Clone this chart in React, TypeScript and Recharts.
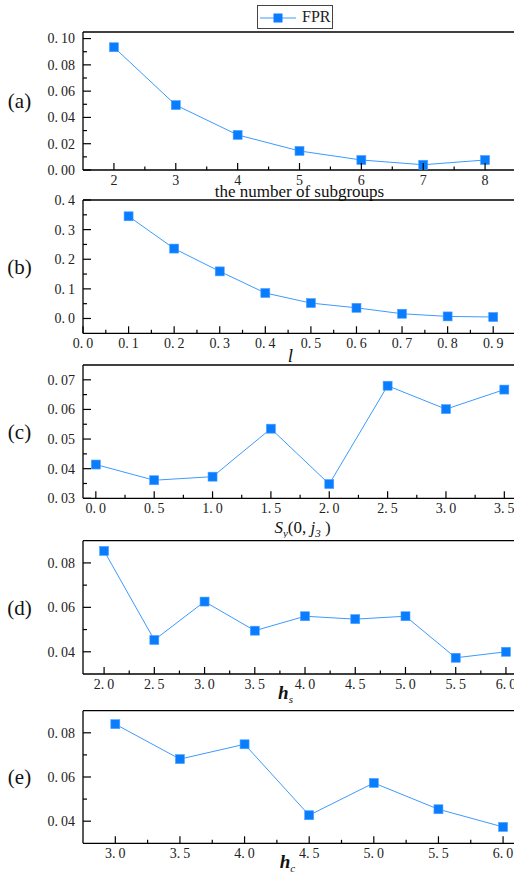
import React from 'react';
import { LineChart, Line, XAxis, YAxis, Legend, ReferenceLine } from 'recharts';

// FPR against each parameter
const subgroups = [2, 3, 4, 5, 6, 7, 8];
const fprSubgroups = [0.0934, 0.0494, 0.0267, 0.0145, 0.0076, 0.004, 0.0076];

const lValues = [0.1, 0.2, 0.3, 0.4, 0.5, 0.6, 0.7, 0.8, 0.9];
const fprL = [0.345, 0.236, 0.159, 0.086, 0.052, 0.036, 0.016, 0.007, 0.005];

const syValues = [0, 0.5, 1.0, 1.5, 2.0, 2.5, 3.0, 3.5];
const fprSy = [0.0414, 0.0361, 0.0373, 0.0535, 0.0348, 0.068, 0.0601, 0.0667];

const hsValues = [2.0, 2.5, 3.0, 3.5, 4.0, 4.5, 5.0, 5.5, 6.0];
const fprHs = [0.0854, 0.0453, 0.0626, 0.0495, 0.056, 0.0547, 0.056, 0.0373, 0.04];

const hcValues = [3.0, 3.5, 4.0, 4.5, 5.0, 5.5, 6.0];
const fprHc = [0.0839, 0.0681, 0.0748, 0.0427, 0.0573, 0.0454, 0.0374];

// tick labels (major) and minor tick positions
const aXMajor = [2, 3, 4, 5, 6, 7, 8];
const aXMinor = [2.5, 3.5, 4.5, 5.5, 6.5, 7.5];
const aYMajor = [0, 0.02, 0.04, 0.06, 0.08, 0.1];
const aYMinor = [0.01, 0.03, 0.05, 0.07, 0.09];

const bXMajor = [0, 0.1, 0.2, 0.3, 0.4, 0.5, 0.6, 0.7, 0.8, 0.9];
const bXMinor = [0.05, 0.15, 0.25, 0.35, 0.45, 0.55, 0.65, 0.75, 0.85];
const bYMajor = [0, 0.1, 0.2, 0.3, 0.4];
const bYMinor = [0.05, 0.15, 0.25, 0.35];

const cXMajor = [0, 0.5, 1.0, 1.5, 2.0, 2.5, 3.0, 3.5];
const cXMinor = [0.25, 0.75, 1.25, 1.75, 2.25, 2.75, 3.25];
const cYMajor = [0.03, 0.04, 0.05, 0.06, 0.07];
const cYMinor = [0.035, 0.045, 0.055, 0.065];

const dXMajor = [2.0, 2.5, 3.0, 3.5, 4.0, 4.5, 5.0, 5.5, 6.0];
const dXMinor = [2.25, 2.75, 3.25, 3.75, 4.25, 4.75, 5.25, 5.75];
const dYMajor = [0.04, 0.06, 0.08];
const dYMinor = [0.05, 0.07];

const eXMajor = [3.0, 3.5, 4.0, 4.5, 5.0, 5.5, 6.0];
const eXMinor = [3.25, 3.75, 4.25, 4.75, 5.25, 5.75];
const eYMajor = [0.04, 0.06, 0.08];
const eYMinor = [0.05, 0.07];

const BLUE_LINE = '#3c9aff';
const BLUE_DOT = '#0a7dff';
const SERIF = '"Liberation Serif", "DejaVu Serif", serif';

const toRows = (xs: number[], ys: number[]) => xs.map((x, i) => ({ x, y: ys[i] }));
const isMajor = (majors: number[], v: number) => majors.some((m) => Math.abs(m - v) < 1e-9);

const NumText = ({ x, y, anchor, value, dec }: any) => {
  const s = value.toFixed(dec);
  const [a, b] = s.split('.');
  return (
    <text x={x} y={y} dy="0.35em" textAnchor={anchor} style={{ fontFamily: SERIF }} fontSize={14} fill="#222">
      {b === undefined ? a : (
        <>
          <tspan>{a}.</tspan>
          <tspan dx={3}>{b}</tspan>
        </>
      )}
    </text>
  );
};

const makeXTick = (majors: number[], dec: number) => (props: any) => {
  const { x, y, payload } = props;
  const major = isMajor(majors, payload.value);
  return (
    <g>
      <line x1={x} y1={y} x2={x} y2={y - (major ? 7 : 3.5)} stroke="#000" strokeWidth={1.2} />
      {major && <NumText x={x} y={y + 10} anchor="middle" value={payload.value} dec={dec} />}
    </g>
  );
};

const makeYTick = (majors: number[], dec: number) => (props: any) => {
  const { x, y, payload } = props;
  const major = isMajor(majors, payload.value);
  return (
    <g>
      <line x1={x} y1={y} x2={x + (major ? 8 : 4)} y2={y} stroke="#000" strokeWidth={1.2} />
      {major && <NumText x={x - 8} y={y} anchor="end" value={payload.value} dec={dec} />}
    </g>
  );
};

const SquareDot = (props: any) => {
  const { cx, cy } = props;
  if (cx == null || cy == null) return null;
  return <rect x={cx - 4.5} y={cy - 4.5} width={9} height={9} fill={BLUE_DOT} stroke="#4aa3ff" strokeWidth={0.6} />;
};

const PanelLetter = ({ viewBox, text }: any) => (
  <text x={19.5} y={viewBox.y + viewBox.height / 2} dy="0.35em" textAnchor="middle" style={{ fontFamily: SERIF }} fontSize={21} fill="#111">
    {text}
  </text>
);

const XTitle = ({ viewBox, children, dx = 0, dy = 20 }: any) => (
  <text x={viewBox.x + viewBox.width / 2 + dx} y={viewBox.y + dy} dy="0.35em" textAnchor="middle" style={{ fontFamily: SERIF }} fontSize={17} fill="#111">
    {children}
  </text>
);

const LegendBox = () => (
  <div style={{ width: 76, height: 24, border: '1px solid #444', boxSizing: 'border-box', background: '#fff', display: 'flex', alignItems: 'center' }}>
    <svg width={42} height={22}>
      <line x1={2} y1={12} x2={38} y2={12} stroke={BLUE_LINE} strokeWidth={1.2} />
      <rect x={15.5} y={7.5} width={9} height={9} fill={BLUE_DOT} />
    </svg>
    <span style={{ fontFamily: SERIF, fontSize: 16, color: '#222', marginLeft: 2 }}>FPR</span>
  </div>
);

const Panel = (p: any) => {
  const height = p.plotBottom - p.top + 40;
  return (
    <div style={{ position: 'absolute', left: 0, top: p.top }}>
      <LineChart width={516} height={height} data={p.data} margin={{ top: p.plotTop - p.top, right: 0, bottom: 0, left: 0 }}>
        <XAxis
          type="number"
          dataKey="x"
          domain={p.xDomain}
          ticks={[...p.xMajor, ...p.xMinor]}
          interval={0}
          tickSize={0}
          tickMargin={0}
          tickLine={false}
          tick={makeXTick(p.xMajor, p.xDec)}
          axisLine={{ stroke: '#000', strokeWidth: 1.3 }}
          height={40}
          label={<XTitle dx={p.titleDx} dy={p.titleDy}>{p.title}</XTitle>}
        />
        <YAxis
          type="number"
          domain={p.yDomain}
          ticks={[...p.yMajor, ...p.yMinor]}
          interval={0}
          tickSize={0}
          tickMargin={0}
          tickLine={false}
          tick={makeYTick(p.yMajor, p.yDec)}
          axisLine={{ stroke: '#000', strokeWidth: 1.3 }}
          width={83}
          label={<PanelLetter text={p.letter} />}
        />
        <ReferenceLine y={p.yDomain[1]} stroke="#000" strokeWidth={1.3} />
        {p.legend && (
          <Legend
            layout="vertical"
            align="center"
            verticalAlign="middle"
            content={<LegendBox />}
            wrapperStyle={{ left: 257, top: 5, width: 76, height: 24 }}
          />
        )}
        <Line
          type="linear"
          dataKey="y"
          name="FPR"
          stroke={BLUE_LINE}
          strokeWidth={1}
          dot={<SquareDot />}
          activeDot={false}
          isAnimationActive={false}
        />
      </LineChart>
    </div>
  );
};

export default function App() {
  return (
    <div style={{ position: 'absolute', left: 0, top: 0, width: 514, height: 873, overflow: 'hidden', background: '#fff' }}>
      <Panel
        top={0} plotTop={32} plotBottom={170}
        data={toRows(subgroups, fprSubgroups)}
        xDomain={[1.5, 8.5]} yDomain={[0, 0.105]}
        xMajor={aXMajor} xMinor={aXMinor} yMajor={aYMajor} yMinor={aYMinor}
        xDec={0} yDec={2} letter="(a)" legend
        title="the number of subgroups" titleDy={21}
      />
      <Panel
        top={190} plotTop={200} plotBottom={333.3}
        data={toRows(lValues, fprL)}
        xDomain={[0, 0.95]} yDomain={[-0.05, 0.4]}
        xMajor={bXMajor} xMinor={bXMinor} yMajor={bYMajor} yMinor={bYMinor}
        xDec={1} yDec={1} letter="(b)"
        title={<tspan fontStyle="italic" fontSize={19}>l</tspan>} titleDx={-9} titleDy={23}
      />
      <Panel
        top={355} plotTop={365} plotBottom={498.3}
        data={toRows(syValues, fprSy)}
        xDomain={[-0.11, 3.6]} yDomain={[0.03, 0.075]}
        xMajor={cXMajor} xMinor={cXMinor} yMajor={cYMajor} yMinor={cYMinor}
        xDec={1} yDec={2} letter="(c)"
        title={
          <>
            <tspan fontStyle="italic">S</tspan>
            <tspan fontStyle="italic" fontSize={11} dy={4}>y</tspan>
            <tspan dy={-4}>(0, </tspan>
            <tspan fontStyle="italic">j</tspan>
            <tspan fontStyle="italic" fontSize={11} dy={4}>3</tspan>
            <tspan dy={-4}> )</tspan>
          </>
        }
        titleDx={3} titleDy={29}
      />
      <Panel
        top={530} plotTop={540.7} plotBottom={674}
        data={toRows(hsValues, fprHs)}
        xDomain={[1.79, 6.1]} yDomain={[0.03, 0.09]}
        xMajor={dXMajor} xMinor={dXMinor} yMajor={dYMajor} yMinor={dYMinor}
        xDec={1} yDec={2} letter="(d)"
        title={
          <>
            <tspan fontStyle="italic" fontWeight="bold" fontSize={19}>h</tspan>
            <tspan fontStyle="italic" fontSize={11} dy={4}>s</tspan>
          </>
        }
        titleDx={-14} titleDy={19}
      />
      <Panel
        top={700} plotTop={710.7} plotBottom={843.3}
        data={toRows(hcValues, fprHc)}
        xDomain={[2.75, 6.1]} yDomain={[0.03, 0.09]}
        xMajor={eXMajor} xMinor={eXMinor} yMajor={eYMajor} yMinor={eYMinor}
        xDec={1} yDec={2} letter="(e)"
        title={
          <>
            <tspan fontStyle="italic" fontWeight="bold" fontSize={19}>h</tspan>
            <tspan fontStyle="italic" fontSize={11} dy={4}>c</tspan>
          </>
        }
        titleDx={-12} titleDy={19}
      />
    </div>
  );
}
